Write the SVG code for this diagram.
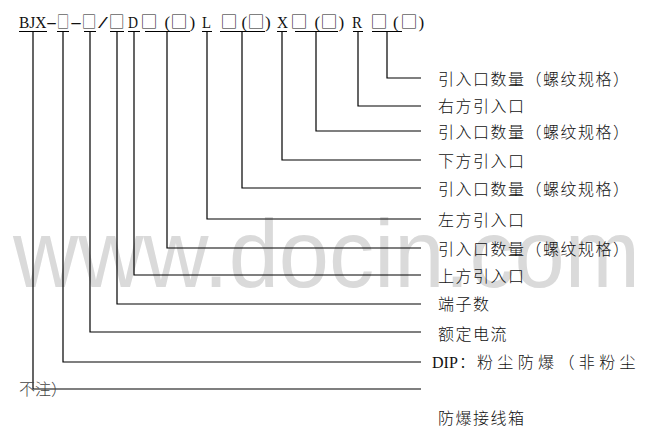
<svg xmlns="http://www.w3.org/2000/svg" width="653" height="438" viewBox="0 0 653 438">
<style>
.wm{font-family:"Liberation Sans",Arial,sans-serif;font-size:96px;fill:#dadada}
.lt{font-family:"Liberation Serif","Noto Sans CJK SC",serif;font-size:17px;fill:#111}
.bx{font-family:"Noto Sans CJK SC",sans-serif;font-size:17px;fill:#111;font-weight:300}
.lb{font-family:"Liberation Serif","Noto Sans CJK SC",serif;font-size:16px;letter-spacing:1.5px;fill:#111;font-weight:300}
.ln{stroke:#000;stroke-width:1.2;fill:none}
</style>
<rect width="653" height="438" fill="#fff"/>
<text class="wm" x="13" y="287" textLength="627" lengthAdjust="spacingAndGlyphs">www.docin.com</text>
<g id="code">
<text class="lt" x="19" y="28" textLength="27.5" lengthAdjust="spacingAndGlyphs">BJX</text>
<text class="lt" x="46" y="28" textLength="11" lengthAdjust="spacingAndGlyphs">-</text>
<text class="bx" transform="translate(57,28) scale(0.71,1)">□</text>
<text class="lt" x="70" y="28" textLength="12" lengthAdjust="spacingAndGlyphs">-</text>
<text class="bx" transform="translate(81.8,28) scale(0.86,1)">□</text>
<text class="lt" x="98" y="28" textLength="10" lengthAdjust="spacingAndGlyphs">/</text>
<text class="bx" transform="translate(108.7,28) scale(0.93,1)">□</text>
<text class="lt" x="128" y="28" textLength="10" lengthAdjust="spacingAndGlyphs">D</text>
<text class="bx" x="140.6" y="28">□</text>
<text class="lt" x="164.5" y="28">(</text>
<text class="bx" x="170.6" y="28">□</text>
<text class="lt" x="189.5" y="28">)</text>
<text class="lt" x="202" y="28" textLength="9" lengthAdjust="spacingAndGlyphs">L</text>
<text class="bx" x="220.6" y="28">□</text>
<text class="lt" x="241.5" y="28">(</text>
<text class="bx" x="247.6" y="28">□</text>
<text class="lt" x="265" y="28">)</text>
<text class="lt" x="277" y="28" textLength="11" lengthAdjust="spacingAndGlyphs">X</text>
<text class="bx" x="290.6" y="28">□</text>
<text class="lt" x="314.5" y="28">(</text>
<text class="bx" x="320.6" y="28">□</text>
<text class="lt" x="338.5" y="28">)</text>
<text class="lt" x="352" y="28" textLength="10" lengthAdjust="spacingAndGlyphs">R</text>
<text class="bx" x="370.6" y="28">□</text>
<text class="lt" x="393" y="28">(</text>
<text class="bx" x="400.6" y="28">□</text>
<text class="lt" x="418.5" y="28">)</text>
</g>
<g id="connectors" class="ln">
<path d="M19 31.5H47M57 31.5H69M84 31.5H96M110 31.5H124M128 31.5H140M145 31.5H190M202 31.5H212M220 31.5H265M277 31.5H287M295 31.5H338M353 31.5H363M372 31.5H402"/>
<path d="M387 31.5V78H421"/>
<path d="M358 31.5V106H421"/>
<path d="M316 31.5V131H421"/>
<path d="M282 31.5V160H421"/>
<path d="M242 31.5V188H421"/>
<path d="M207 31.5V219H421"/>
<path d="M167 31.5V248H421"/>
<path d="M134 31.5V275H421"/>
<path d="M117 31.5V304H421"/>
<path d="M90 31.5V332H421"/>
<path d="M63 31.5V362H421"/>
<path d="M33 31.5V389H421"/>
</g>
<g id="n1"><text class="lb" x="438" y="85">引入口数量（螺纹规格）</text></g>
<g id="n2"><text class="lb" x="438" y="112">右方引入口</text></g>
<g id="n3"><text class="lb" x="438" y="138">引入口数量（螺纹规格）</text></g>
<g id="n4"><text class="lb" x="438" y="167">下方引入口</text></g>
<g id="n5"><text class="lb" x="438" y="195">引入口数量（螺纹规格）</text></g>
<g id="n6"><text class="lb" x="438" y="226">左方引入口</text></g>
<g id="n7"><text class="lb" x="438" y="255">引入口数量（螺纹规格）</text></g>
<g id="n8"><text class="lb" x="438" y="282">上方引入口</text></g>
<g id="n9"><text class="lb" x="438" y="310">端子数</text></g>
<g id="n10"><text class="lb" x="438" y="340">额定电流</text></g>
<g id="n11"><text class="lb" x="432" y="368" style="letter-spacing:0">DIP</text><text class="lb" x="459" y="368" style="letter-spacing:0">：</text><text class="lb" x="477" y="368" textLength="160" lengthAdjust="spacing">粉尘防爆（非粉尘</text></g>
<g id="n12"><text class="lb" x="19" y="395" style="fill:#444;letter-spacing:0">不注）</text></g>
<g id="n13"><text class="lb" x="438" y="424">防爆接线箱</text></g>
</svg>
